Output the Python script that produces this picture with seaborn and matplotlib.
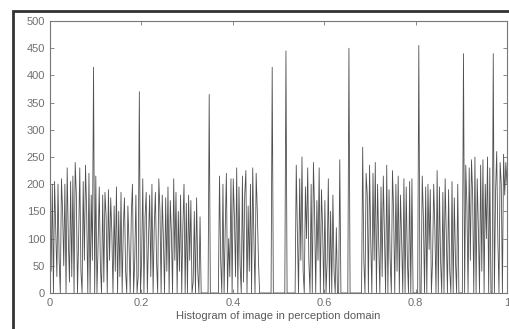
import numpy as np
import pandas as pd
import seaborn as sns
import matplotlib.pyplot as plt
from matplotlib.patches import Rectangle

# histogram counts, 400 bins over [0, 1] (40 bins per 0.1)
seg0 = [170, 40, 200, 0, 205, 120, 30, 200, 60, 0, 210, 150, 50, 200, 0, 230, 100, 20, 205, 30,
        215, 0, 240, 180, 0, 100, 230, 40, 0, 205, 60, 235, 150, 0, 220, 0, 180, 60, 415, 0]
seg1 = [215, 0, 90, 195, 50, 0, 180, 20, 185, 140, 0, 190, 60, 175, 110, 0, 160, 40, 195, 0,
        150, 30, 185, 0, 120, 175, 40, 0, 160, 90, 0, 145, 200, 0, 60, 180, 0, 30, 370, 0]
seg2 = [60, 210, 0, 140, 185, 0, 100, 180, 30, 200, 0, 120, 185, 60, 0, 210, 150, 0, 180, 100,
        0, 175, 40, 195, 0, 170, 110, 0, 210, 60, 185, 0, 150, 40, 180, 0, 120, 200, 0, 165]
seg3 = [0, 180, 60, 170, 0, 20, 150, 0, 175, 40, 0, 140, 0, 0, 0, 0, 0, 0, 0, 365,
        0, 0, 0, 0, 0, 0, 0, 0, 215, 60, 0, 200, 0, 120, 220, 0, 100, 30, 210, 0]
seg4 = [210, 140, 30, 230, 0, 195, 50, 0, 215, 20, 180, 225, 0, 160, 40, 200, 0, 230, 100, 0,
        220, 150, 60, 0, 0, 0, 0, 0, 0, 0, 0, 0, 0, 0, 415, 0, 0, 0, 0, 0]
seg5 = [0, 0, 0, 0, 0, 0, 445, 0, 0, 0, 0, 0, 0, 0, 0, 235, 110, 0, 210, 60,
        250, 40, 0, 195, 100, 230, 60, 0, 200, 0, 240, 150, 0, 170, 60, 230, 0, 190, 120, 0]
seg6 = [170, 0, 60, 210, 0, 150, 0, 180, 40, 0, 120, 0, 0, 245, 0, 0, 0, 0, 0, 0,
        0, 450, 0, 0, 0, 0, 0, 0, 0, 0, 0, 0, 0, 268, 60, 0, 220, 180, 0, 235]
seg7 = [100, 0, 220, 60, 240, 0, 200, 90, 0, 195, 30, 215, 110, 0, 235, 0, 190, 60, 0, 225,
        150, 0, 200, 40, 215, 0, 180, 100, 0, 210, 0, 195, 60, 0, 205, 0, 210, 0, 0, 0]
seg8 = [0, 0, 455, 0, 0, 215, 140, 0, 195, 0, 200, 80, 190, 0, 60, 200, 120, 0, 225, 0,
        195, 60, 0, 185, 0, 210, 100, 0, 190, 40, 0, 205, 0, 175, 60, 0, 200, 0, 0, 0]
seg9 = [0, 440, 0, 235, 160, 0, 230, 60, 245, 180, 0, 250, 0, 210, 120, 0, 235, 40, 245, 0,
        200, 100, 250, 0, 230, 0, 0, 440, 0, 185, 260, 100, 0, 240, 200, 0, 255, 180, 240, 200]

counts = seg0 + seg1 + seg2 + seg3 + seg4 + seg5 + seg6 + seg7 + seg8 + seg9
n_bins = len(counts)
bin_pos = np.arange(n_bins) / (n_bins - 1)

x_ticks = [0, 0.2, 0.4, 0.6, 0.8, 1]
x_labels = ["0", "0.2", "0.4", "0.6", "0.8", "1"]
y_ticks = [0, 50, 100, 150, 200, 250, 300, 350, 400, 450, 500]

df = pd.DataFrame({"level": bin_pos, "count": counts})

sns.set_style("white")
plt.rcParams["font.family"] = ["Liberation Sans", "DejaVu Sans"]

fig = plt.figure(figsize=(5.10, 3.29), dpi=100)
ax = fig.add_axes([50 / 510, 1 - 293 / 329, 457 / 510, 272 / 329])

sns.lineplot(data=df, x="level", y="count", ax=ax, color="#505050", linewidth=0.6)

ax.set_xlim(0, 1)
ax.set_ylim(0, 500)
ax.set_xticks(x_ticks)
ax.set_xticklabels(x_labels)
ax.set_yticks(y_ticks)
ax.tick_params(direction="in", length=3, width=0.6, colors="#777777",
               labelsize=8, labelcolor="#707070", top=True, right=True,
               bottom=True, left=True)
ax.set_xlabel("Histogram of image in perception domain", fontsize=8,
              color="#5a5a5a", labelpad=2)
ax.set_ylabel("")
for s in ax.spines.values():
    s.set_color("#777777")
    s.set_linewidth(0.8)

# outer frame of the figure window
fig.patches.append(Rectangle((13 / 510, -0.1), 1.2, 1.1 - 11 / 329,
                             transform=fig.transFigure, fill=False,
                             edgecolor="#333333", linewidth=2.0))

fig.savefig("out.png", dpi=100)
